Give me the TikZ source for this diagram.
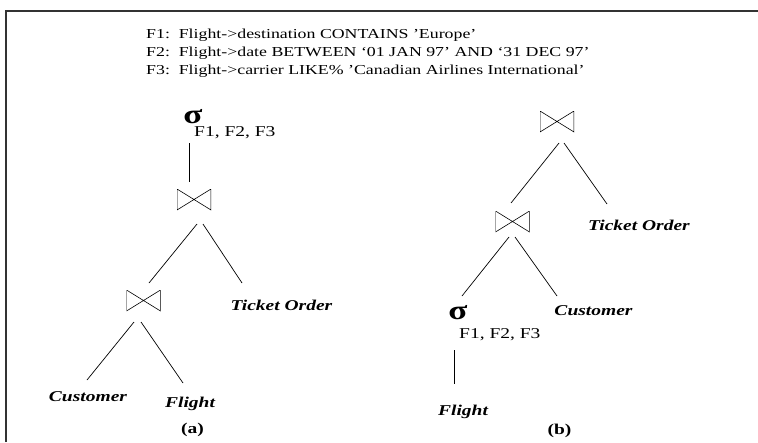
\documentclass[tikz,border=0pt]{standalone}
\usepackage{fontspec}
\setmainfont[FakeStretch=1.3]{Liberation Serif}
\begin{document}
\begin{tikzpicture}[x=1pt,y=-1pt,
  bowtie/.style={minimum width=34pt,minimum height=21pt,inner sep=0pt,outer sep=0pt,
    path picture={\draw[line width=0.6pt]
      (path picture bounding box.north west) -- (path picture bounding box.south east)
      -- (path picture bounding box.north east) -- (path picture bounding box.south west) -- cycle;}},
  rel/.style={font=\fontsize{15}{17}\selectfont\bfseries\itshape,inner sep=0pt},
  sel/.style={font=\fontsize{27}{27}\selectfont\bfseries,inner sep=0pt},
  cond/.style={font=\fontsize{15}{17}\selectfont,inner sep=0pt,anchor=west},
  sublabel/.style={font=\fontsize{15}{17}\selectfont\bfseries,inner sep=0pt},
  pred/.style={font=\fontsize{13.7}{16}\selectfont,inner sep=0pt,anchor=west},
  conn/.style={line width=0.7pt}]
\useasboundingbox (0,0) rectangle (758,442);

% frame
\draw[line width=1.3pt,black!80] (6,442) -- (6,11) -- (758,11);

% predicates
\node[pred] (p1) at (146,35) {F1:\ \ Flight->destination CONTAINS ’Europe’};
\node[pred] (p2) at (146,53) {F2:\ \ Flight->date BETWEEN ‘01 JAN 97’ AND ‘31 DEC 97’};
\node[pred] (p3) at (146,71) {F3:\ \ Flight->carrier LIKE\% ’Canadian Airlines International’};

% plan (a)
\node[sel] (s1) at (193,117) {σ};
\node[cond] (c1) at (194,133) {F1, F2, F3};
\node[bowtie] (j1) at (194,199.5) {};
\node[bowtie] (j2) at (143.5,300.5) {};
\node[rel] (to1) at (281.5,305) {Ticket Order};
\node[rel] (cu1) at (88,397) {Customer};
\node[rel] (fl1) at (190,404) {Flight};
\node[sublabel] (la) at (192.5,430) {(a)};

\draw[conn] ([shift={(-4,26)}]s1.center) -- ([shift={(-5,-7)}]j1.north);
\draw[conn] ([shift={(3,14)}]j1.south) -- ([shift={(5.5,-7)}]j2.north);
\draw[conn] ([shift={(9,14)}]j1.south) -- ([shift={(-39.5,-22)}]to1.center);
\draw[conn] ([shift={(-9.5,11)}]j2.south) -- ([shift={(-1,-17)}]cu1.center);
\draw[conn] ([shift={(-2.5,11)}]j2.south) -- ([shift={(-7,-21)}]fl1.center);

% plan (b)
\node[bowtie] (j3) at (557,121.5) {};
\node[bowtie] (j4) at (512.5,221.5) {};
\node[rel] (to2) at (639,225) {Ticket Order};
\node[sel] (s2) at (458,313) {σ};
\node[rel] (cu2) at (593.5,311) {Customer};
\node[cond] (c2) at (459,335) {F1, F2, F3};
\node[rel] (fl2) at (463,412) {Flight};
\node[sublabel] (lb) at (559.5,431) {(b)};

\draw[conn] ([shift={(2,11)}]j3.south) -- ([shift={(-1.5,-8)}]j4.north);
\draw[conn] ([shift={(7,11)}]j3.south) -- ([shift={(-32,-21)}]to2.center);
\draw[conn] ([shift={(-3.5,5)}]j4.south) -- ([shift={(4,-17)}]s2.center);
\draw[conn] ([shift={(2.5,5)}]j4.south) -- ([shift={(-36.5,-15)}]cu2.center);
\draw[conn] ([shift={(-4,37)}]s2.center) -- ([shift={(-9,-28)}]fl2.center);
\end{tikzpicture}
\end{document}
